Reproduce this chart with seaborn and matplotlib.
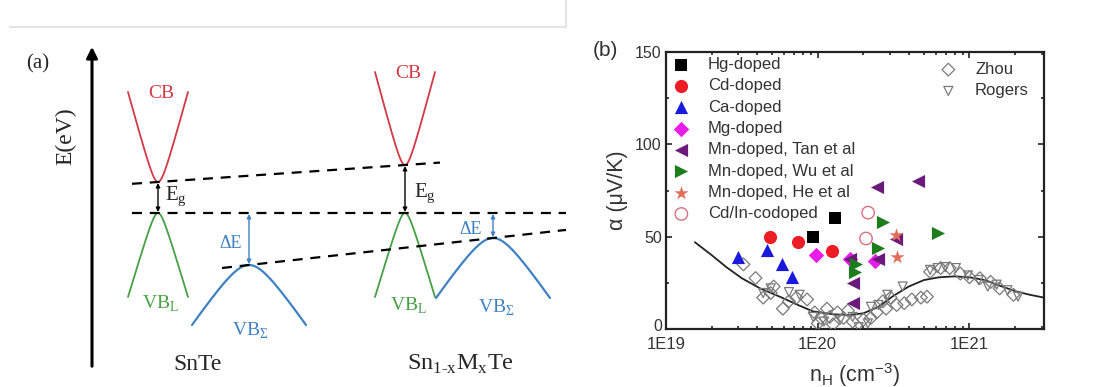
import numpy as np
import pandas as pd
import matplotlib
matplotlib.use("Agg")
import matplotlib.pyplot as plt
import matplotlib.transforms as mtransforms
import seaborn as sns
from matplotlib.ticker import LogLocator, NullFormatter, FixedLocator

# ---------------- panel (b) data ----------------
hg_n = [9.3e19, 1.30e20]
hg_a = [50, 60]
cd_n = [4.85e19, 7.4e19, 1.25e20]
cd_a = [50, 47, 42]
ca_n = [3.0e19, 4.6e19, 5.8e19, 6.8e19]
ca_a = [39, 43, 35, 28]
mg_n = [9.8e19, 1.62e20, 2.4e20]
mg_a = [40, 38, 37]
tan_n = [2.46e20, 4.6e20, 1.62e20, 1.7e20, 1.7e20, 2.5e20, 3.3e20]
tan_a = [77, 80, 38, 25, 14, 38, 49]
wu_n = [2.7e20, 2.5e20, 1.78e20, 1.75e20, 6.2e20]
wu_a = [58, 44, 35, 31, 52]
he_n = [3.3e20, 3.35e20]
he_a = [51, 39]
cdin_n = [2.15e20, 2.08e20]
cdin_a = [63, 49]

zhou_n = [3.24e19, 3.89e19, 4.37e19, 4.9e19, 5.13e19, 5.89e19, 6.46e19, 7.24e19, 8.51e19,
          9.55e19, 1.0e20, 1.05e20, 1.15e20, 1.20e20, 1.26e20, 1.35e20, 1.48e20, 1.58e20,
          1.70e20, 2.0e20, 2.24e20, 2.45e20, 2.69e20, 2.82e20, 3.02e20, 3.31e20, 3.72e20,
          4.17e20, 4.79e20, 5.25e20, 5.5e20, 6.46e20, 7.41e20, 8.71e20, 1.0e21, 1.17e21,
          1.38e21, 1.58e21, 1.95e21]
zhou_a = [35, 27.6, 17, 19.5, 23, 11, 15, 17, 16,
          9, 3, 6, 11, 6.5, 2.5, 9, 6, 10,
          4, 5, 6, 9, 15, 11, 17, 13, 14,
          16, 17, 17.5, 31, 33, 33, 30, 28, 27.5,
          25.5, 22, 18.5]
rogers_n = [4.37e19, 4.9e19, 6.46e19, 7.59e19, 9.33e19, 1.10e20, 1.41e20, 1.70e20, 1.86e20,
            2.14e20, 2.24e20, 2.51e20, 2.88e20, 3.63e20, 5.5e20, 6.17e20, 6.92e20, 8.13e20,
            9.77e20, 1.15e21, 1.32e21, 1.51e21, 1.78e21, 2.09e21]
rogers_a = [19.5, 22, 20, 18.5, 6.5, 4, 5, 6.5, 1,
            3, 12, 13, 18.5, 23, 32, 33, 33.5, 33,
            29, 26.5, 23, 24, 21, 17.5]

curve_n = [1.55e19, 2.0e19, 2.5e19, 3.16e19, 4.17e19, 5.62e19, 7.41e19, 9.33e19, 1.26e20,
           1.58e20, 2.0e20, 2.51e20, 3.16e20, 3.98e20, 5.01e20, 6.31e20, 7.94e20, 1.0e21,
           1.26e21, 1.58e21, 2.0e21, 2.51e21, 3.1e21]
curve_a = [47, 40, 33.5, 27.5, 22, 17.5, 13, 9.5, 8,
           7.5, 8.5, 12, 18, 23, 26.5, 28, 28.5, 28,
           26.5, 23.5, 20.5, 18.5, 17]

x_ticks = [1e19, 1e20, 1e21]
x_ticklabels = ["1E19", "1E20", "1E21"]
y_ticks = [0, 50, 100, 150]

# ---------------- panel (a) schematic parameters (figure pixels) ----------------
cb_x = [158, 405]          # L-valley centres
cb_vertex_y = [182, 165]
cb_top_y = [92, 72]
vbl_vertex_y = [213, 213]
vbl_bottom_y = [297, 297]
l_half = 30
vbs_x = [249, 493]
vbs_vertex_y = [265, 238]
vbs_bottom_y = [325, 298]
s_half = 57

RED = "#d23a45"
GREEN = "#46a046"
BLUE = "#3f82c4"

sns.set_theme(style="ticks")
plt.rcParams["font.family"] = ["Liberation Sans", "DejaVu Sans"]

W, H = 1108, 387
fig = plt.figure(figsize=(W / 100, H / 100), dpi=100)
fig.patch.set_facecolor("white")

# ---------- panel (a) ----------
axa = fig.add_axes([0, 0, 1, 1])
axa.set_xlim(0, W)
axa.set_ylim(H, 0)
axa.axis("off")
serif = ["Liberation Serif", "DejaVu Serif"]

# faint frame separator at the top
axa.plot([10, 566], [27, 27], color="#e4e4e4", lw=1.5)
axa.plot([566, 566], [0, 27], color="#e4e4e4", lw=1.5)


def hyper(x0, y0, half, dy, a, sign):
    xs = np.linspace(x0 - half, x0 + half, 300)
    k = np.sqrt((dy + a) ** 2 - a ** 2) / half
    ys = y0 + sign * (np.sqrt(a ** 2 + (k * (xs - x0)) ** 2) - a)
    return xs, ys


for i in range(2):
    xs, ys = hyper(cb_x[i], cb_vertex_y[i], l_half, cb_vertex_y[i] - cb_top_y[i], 22, -1)
    axa.plot(xs, ys, color=RED, lw=1.3)
    xs, ys = hyper(cb_x[i], vbl_vertex_y[i], l_half, vbl_bottom_y[i] - vbl_vertex_y[i], 18, 1)
    axa.plot(xs, ys, color=GREEN, lw=1.3)
    xs, ys = hyper(vbs_x[i], vbs_vertex_y[i], s_half, vbs_bottom_y[i] - vbs_vertex_y[i], 28, 1)
    axa.plot(xs, ys, color=BLUE, lw=1.6)

# dashed guide lines
dash_kw = dict(color="black", lw=1.6, dashes=(4.5, 3.5))
slope1 = (cb_vertex_y[1] - cb_vertex_y[0]) / (cb_x[1] - cb_x[0])
axa.plot([132, 440], [cb_vertex_y[0] + slope1 * (132 - cb_x[0]),
                      cb_vertex_y[0] + slope1 * (440 - cb_x[0])], **dash_kw)
axa.plot([132, 566], [vbl_vertex_y[0], vbl_vertex_y[0]], **dash_kw)
slope3 = (vbs_vertex_y[1] - vbs_vertex_y[0]) / (vbs_x[1] - vbs_x[0])
axa.plot([222, 566], [vbs_vertex_y[0] + slope3 * (222 - vbs_x[0]),
                      vbs_vertex_y[0] + slope3 * (566 - vbs_x[0])], **dash_kw)

# energy axis arrow
axa.annotate("", xy=(92, 44), xytext=(92, 369),
             arrowprops=dict(arrowstyle="-|>", lw=2.2, color="black", mutation_scale=16))

# Eg and dE arrows
for i in range(2):
    axa.annotate("", xy=(cb_x[i], cb_vertex_y[i] + 1), xytext=(cb_x[i], vbl_vertex_y[i] - 1),
                 arrowprops=dict(arrowstyle="<|-|>", lw=1.0, color="black",
                                 mutation_scale=6, shrinkA=0, shrinkB=0))
    axa.annotate("", xy=(vbs_x[i], vbl_vertex_y[i] + 1), xytext=(vbs_x[i], vbs_vertex_y[i] - 1),
                 arrowprops=dict(arrowstyle="<|-|>", lw=1.0, color=BLUE,
                                 mutation_scale=6, shrinkA=0, shrinkB=0))

# texts
axa.text(38, 64, "(a)", fontsize=15, family=serif, ha="center", va="center")
axa.text(66, 136, "E(eV)", fontsize=17, family=serif, ha="center", va="center", rotation=90)
axa.text(161, 94, "CB", fontsize=14, family=serif, color=RED, ha="center", va="center")
axa.text(408, 73, "CB", fontsize=14, family=serif, color=RED, ha="center", va="center")
axa.text(165, 197, r"E$_\mathregular{g}$", fontsize=15, family=serif, ha="left", va="center")
axa.text(414, 194, r"E$_\mathregular{g}$", fontsize=15, family=serif, ha="left", va="center")
axa.text(231, 243, "ΔE", fontsize=13, family=serif, color=BLUE, ha="center", va="center")
axa.text(471, 230, "ΔE", fontsize=13, family=serif, color=BLUE, ha="center", va="center")
axa.text(160, 304, r"VB$_\mathregular{L}$", fontsize=14, family=serif, color=GREEN,
         ha="center", va="center")
axa.text(408, 306, r"VB$_\mathregular{L}$", fontsize=14, family=serif, color=GREEN,
         ha="center", va="center")
axa.text(250, 331, r"VB$_\mathregular{Σ}$", fontsize=14, family=serif, color=BLUE,
         ha="center", va="center")
axa.text(496, 308, r"VB$_\mathregular{Σ}$", fontsize=14, family=serif, color=BLUE,
         ha="center", va="center")
axa.text(198, 364, "SnTe", fontsize=17, family=serif, ha="center", va="center")
axa.text(460, 364, r"Sn$_\mathregular{1{‐}x}$M$_\mathregular{x}$Te",
         fontsize=17.5, family=serif, ha="center", va="center")

# ---------- panel (b) ----------
L, R, T, B = 666, 1044, 52, 329
axb = fig.add_axes([L / W, (H - B) / H, (R - L) / W, (B - T) / H])
axb.set_facecolor("none")

sns.lineplot(x=curve_n, y=curve_a, ax=axb, color="#222222", lw=1.3, sort=False,
             legend=False, zorder=2)

open_kw = dict(s=42, linewidth=0.9, zorder=3)
sns.scatterplot(x=zhou_n, y=zhou_a, marker="D", ax=axb, label="Zhou", **open_kw)
axb.collections[-1].set_facecolor("none")
axb.collections[-1].set_edgecolor("#7a7a7a")
sns.scatterplot(x=rogers_n, y=rogers_a, marker="v", ax=axb, label="Rogers", **open_kw)
axb.collections[-1].set_facecolor("none")
axb.collections[-1].set_edgecolor("#7a7a7a")

fill_kw = dict(s=90, linewidth=0, zorder=4)
sns.scatterplot(x=hg_n, y=hg_a, marker="s", color="black", ax=axb, label="Hg-doped",
                s=70, linewidth=0, zorder=4)
sns.scatterplot(x=cd_n, y=cd_a, marker="o", color="#ee1c24", ax=axb, label="Cd-doped", **fill_kw)
sns.scatterplot(x=ca_n, y=ca_a, marker="^", color="#1a1adc", ax=axb, label="Ca-doped", **fill_kw)
sns.scatterplot(x=mg_n, y=mg_a, marker="D", color="#e81ee8", ax=axb, label="Mg-doped",
                s=62, linewidth=0, zorder=4)
sns.scatterplot(x=tan_n, y=tan_a, marker="<", color="#6b1a7c", ax=axb,
                label="Mn-doped, Tan et al", **fill_kw)
sns.scatterplot(x=wu_n, y=wu_a, marker=">", color="#1d7d1d", ax=axb,
                label="Mn-doped, Wu et al", **fill_kw)
sns.scatterplot(x=he_n, y=he_a, marker="*", color="#e0705c", ax=axb,
                label="Mn-doped, He et al", s=110, linewidth=0, zorder=5)
sns.scatterplot(x=cdin_n, y=cdin_a, marker="o", ax=axb, label="Cd/In-codoped",
                s=80, linewidth=1.0, zorder=4)
axb.collections[-1].set_facecolor("none")
axb.collections[-1].set_edgecolor("#d9707e")

axb.set_xscale("log")
axb.set_xlim(1e19, 3.1e21)
axb.set_ylim(0, 150)
axb.set_xticks(x_ticks)
axb.set_xticklabels(x_ticklabels)
axb.xaxis.set_minor_locator(LogLocator(base=10, subs=np.arange(2, 10), numticks=30))
axb.xaxis.set_minor_formatter(NullFormatter())
axb.set_yticks(y_ticks)
axb.yaxis.set_minor_locator(FixedLocator([25, 75, 125]))
axb.tick_params(which="both", direction="in", top=True, right=True, width=1.2,
                colors="#222222", labelcolor="#333333")
axb.tick_params(axis="x", labelsize=12, pad=6)
axb.tick_params(axis="y", labelsize=11.5, pad=3)
axb.tick_params(which="major", length=4.5)
axb.tick_params(which="minor", length=2.5)
for sp in axb.spines.values():
    sp.set_linewidth(1.6)
    sp.set_color("#222222")
    sp.set_visible(True)

# nudge the "0" label slightly upward as in the reference
zero_lbl = axb.get_yticklabels()[0]
zero_lbl.set_transform(zero_lbl.get_transform() +
                       mtransforms.ScaledTranslation(0, 4 / 100, fig.dpi_scale_trans))

axb.set_xlabel(r"n$_\mathregular{H}$ (cm$^\mathregular{-3}$)", fontsize=15.5, color="#333333",
               labelpad=6)
axb.set_ylabel("α (μV/K)", fontsize=15.5, color="#333333", labelpad=5)
fig.text(605 / W, 1 - 50 / H, "(b)", fontsize=15, color="#333333", ha="center", va="center")

handles, labels = axb.get_legend_handles_labels()
hmap = dict(zip(labels, handles))
order1 = ["Hg-doped", "Cd-doped", "Ca-doped", "Mg-doped", "Mn-doped, Tan et al",
          "Mn-doped, Wu et al", "Mn-doped, He et al", "Cd/In-codoped"]
order2 = ["Zhou", "Rogers"]
leg_kw = dict(frameon=False, fontsize=12, handlelength=1.0, handletextpad=1.1,
              borderpad=0, borderaxespad=0, labelspacing=0.38, loc="upper left",
              bbox_transform=fig.transFigure, labelcolor="#333333")
leg1 = axb.legend([hmap[k] for k in order1], order1,
                  bbox_to_anchor=(673 / W, 1 - 57 / H), **leg_kw)
axb.add_artist(leg1)
axb.legend([hmap[k] for k in order2], order2,
           bbox_to_anchor=(940 / W, 1 - 62 / H), **leg_kw)

fig.savefig("out.png", dpi=100, facecolor="white")
